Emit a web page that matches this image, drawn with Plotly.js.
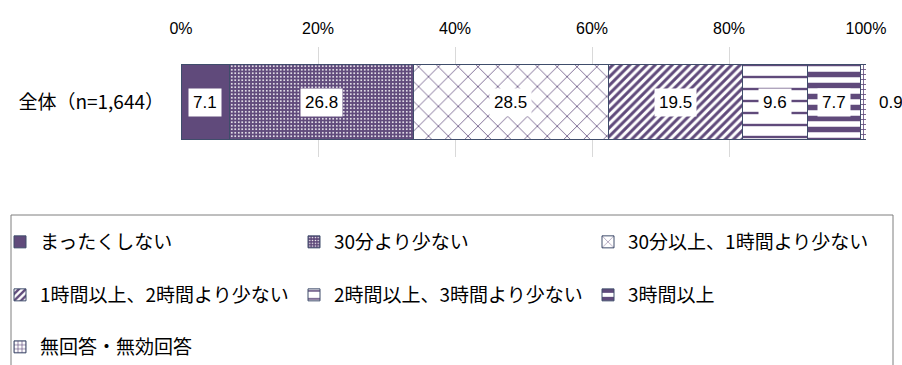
<!DOCTYPE html>
<html><head><meta charset="utf-8">
<script src="https://cdn.plot.ly/plotly-3.0.1.min.js"></script>
<style>html,body{margin:0;padding:0;background:#fff;}#chart{width:902px;height:365px;}</style>
</head><body><div id="chart"></div>
<script>
const category = ['全体（n=1,644）'];
const seriesNames = ['まったくしない','30分より少ない','30分以上、1時間より少ない','1時間以上、2時間より少ない','2時間以上、3時間より少ない','3時間以上','無回答・無効回答'];
const seriesValues = [7.1, 26.8, 28.5, 19.5, 9.6, 7.7, 0.9];
const tickValues = [0, 20, 40, 60, 80, 100];

const PURPLE = '#604A7B';
const patterns = [
  {shape:'', bgcolor:PURPLE},
  {shape:'.', bgcolor:PURPLE, fgcolor:'#ffffff', size:3.5, solidity:0.22},
  {shape:'x', bgcolor:'#ffffff', fgcolor:PURPLE, size:14, solidity:0.11},
  {shape:'/', bgcolor:'#ffffff', fgcolor:PURPLE, size:6, solidity:0.5},
  {shape:'-', bgcolor:'#ffffff', fgcolor:PURPLE, size:12, solidity:0.2},
  {shape:'-', bgcolor:'#ffffff', fgcolor:PURPLE, size:11, solidity:0.5},
  {shape:'+', bgcolor:'#ffffff', fgcolor:PURPLE, size:5, solidity:0.3}
];
// legend slot positions (container px): [left, centerY]
const legendPos = [[0,242],[294,242],[588,242],[0,295],[294,295],[588,295],[0,347]];

const traces = seriesNames.map((n,i)=>({
  type:'bar', orientation:'h', name:n, y:category, x:[seriesValues[i]],
  marker:{color: i===0?PURPLE:'#ffffff', pattern:patterns[i], line:{color:'#3F4D6B', width:1}},
  legend: i===0?'legend':'legend'+(i+1),
  hoverinfo:'skip'
}));

const annotations = [];
let cum = 0;
seriesValues.forEach((v,i)=>{
  const last = i===seriesValues.length-1;
  annotations.push({
    x: last ? Math.min(cum+v,100) : cum+v/2, y: category[0], xref:'x', yref:'y',
    text: v.toFixed(1), showarrow:false,
    xanchor: last?'left':'center', xshift: last?8:0,
    font:{family:'Liberation Sans, Arial, sans-serif', size:17, color:'#000'},
    bgcolor: last?'rgba(0,0,0,0)':'#ffffff', borderpad:4
  });
  cum += v;
});

const layout = {
  width:902, height:365,
  margin:{l:181, r:36, t:47, b:208},
  paper_bgcolor:'#fff', plot_bgcolor:'#fff',
  barmode:'stack', bargap:0.32,
  xaxis:{side:'top', range:[0,100], tickvals:tickValues, ticktext:tickValues.map(t=>t+'%'),
    showgrid:true, gridcolor:'#D9D9D9', zeroline:false, showline:false, ticks:'',
    ticklabelstandoff:9, fixedrange:true,
    tickfont:{family:'Liberation Sans, Arial, sans-serif', size:16, color:'#000'}},
  yaxis:{showgrid:false, zeroline:false, showline:false, ticks:'', ticklabelstandoff:16,
    tickfont:{family:'Noto Sans CJK JP, sans-serif', size:19, color:'#000'}},
  annotations: annotations,
  shapes:[{type:'rect', xref:'paper', yref:'paper', x0:-170/685, x1:712/685,
    y0:-(215-157)/110, y1:-(400-157)/110,
    line:{color:'#7F7F7F', width:1}, fillcolor:'rgba(0,0,0,0)'}],
  showlegend:true
};
legendPos.forEach((p,i)=>{
  const key = i===0?'legend':'legend'+(i+1);
  layout[key] = {orientation:'h', xref:'container', yref:'container', x:p[0]/902, y:1-p[1]/365,
    xanchor:'left', yanchor:'middle', bgcolor:'rgba(0,0,0,0)', borderwidth:0,
    font:{family:'Noto Sans CJK JP, sans-serif', size:19, color:'#000'}};
});
Plotly.newPlot('chart', traces, layout, {displayModeBar:false, staticPlot:true});
</script></body></html>
